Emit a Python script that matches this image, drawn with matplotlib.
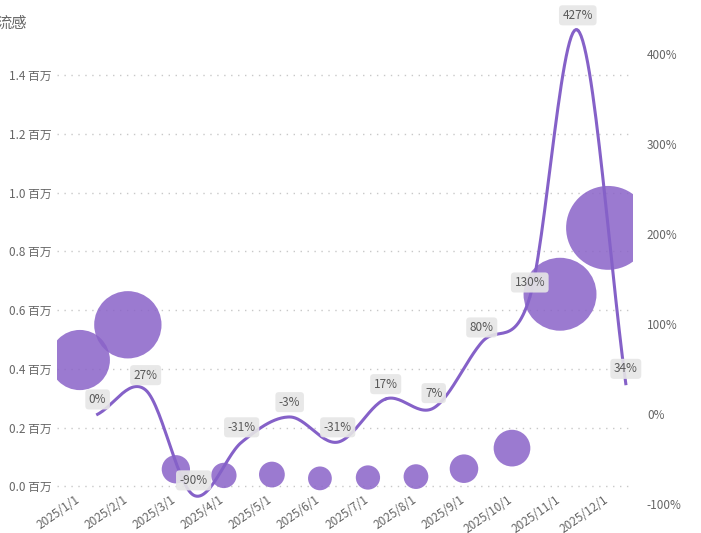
import matplotlib.pyplot as plt
import numpy as np

plt.rcParams['font.family'] = ['Noto Sans CJK SC', 'DejaVu Sans']

months = ['2025/%d/1' % m for m in range(1, 13)]
cases_m = [0.43, 0.55, 0.058, 0.037, 0.04, 0.027, 0.03, 0.033, 0.06, 0.13, 0.654, 0.88]
growth = [0, 27, -90, -31, -3, -31, 17, 7, 80, 130, 427, 34]
growth_labels = ['0%', '27%', '-90%', '-31%', '-3%', '-31%', '17%', '7%', '80%', '130%', '427%', '34%']


def catmull(xs, ys, n=30):
    xs = np.asarray(xs, float)
    ys = np.asarray(ys, float)
    px = np.concatenate([[2 * xs[0] - xs[1]], xs, [2 * xs[-1] - xs[-2]]])
    py = np.concatenate([[2 * ys[0] - ys[1]], ys, [2 * ys[-1] - ys[-2]]])
    ox, oy = [], []
    t = np.linspace(0, 1, n)
    for i in range(1, len(px) - 2):
        for p, o in ((px, ox), (py, oy)):
            p0, p1, p2, p3 = p[i - 1], p[i], p[i + 1], p[i + 2]
            o.extend(0.5 * (2 * p1 + (-p0 + p2) * t + (2 * p0 - 5 * p1 + 4 * p2 - p3) * t ** 2
                            + (-p0 + 3 * p1 - 3 * p2 + p3) * t ** 3))
    return np.array(ox), np.array(oy)


fig = plt.figure(figsize=(7.01, 5.33), dpi=100)
ax = fig.add_axes([0.081, 0.054, 0.822, 0.908])
purple = '#8a63c8'
grey = '#666666'

x = np.arange(len(months))
sizes = [(100 + 2100 * v) * 0.52 * 3.6 for v in cases_m]
ax.scatter(x, cases_m, s=sizes, color=purple, alpha=0.85, edgecolors='none', zorder=2)
ax.set_xlim(-0.48, 11.52)
ax.set_ylim(-0.061, 1.587)
ax.set_yticks([0, 0.2, 0.4, 0.6, 0.8, 1.0, 1.2, 1.4])
ax.set_yticklabels(['%.1f 百万' % v for v in [0, 0.2, 0.4, 0.6, 0.8, 1.0, 1.2, 1.4]])
ax.grid(axis='y', linestyle=(0, (1, 4)), color='#c8c8c8', linewidth=1)
ax.set_xticks(x - 0.1)
ax.set_xticklabels(months, rotation=35, ha='right', rotation_mode='anchor')
ax.tick_params(length=0, colors=grey, labelsize=8.5)
ax.tick_params(axis='x', pad=-8)
for s in ax.spines.values():
    s.set_visible(False)

ax2 = ax.twinx()
lx = x + 0.37
sx, sy = catmull(lx, growth)
ax2.plot(sx, sy, color='#8561c8', linewidth=2.2, zorder=3)
ax2.set_ylim(-100, 438)
ax2.set_yticks([-100, 0, 100, 200, 300, 400])
ax2.set_yticklabels(['-100%', '0%', '100%', '200%', '300%', '400%'])
ax2.tick_params(length=0, colors=grey, labelsize=8.5, pad=10)
for s in ax2.spines.values():
    s.set_visible(False)
for xi, yi, t in zip(lx, growth, growth_labels):
    ax2.annotate(t, (xi, yi), xytext=(0, 6), textcoords='offset points', ha='center', va='bottom',
                 fontsize=8.5, color='#595959',
                 bbox=dict(boxstyle='round,pad=0.3', fc='#e6e6e6', ec='none', alpha=0.9))

fig.text(-0.005, 0.957, '流感', fontsize=11, color=grey, va='center')
fig.savefig('out.png', dpi=100)
